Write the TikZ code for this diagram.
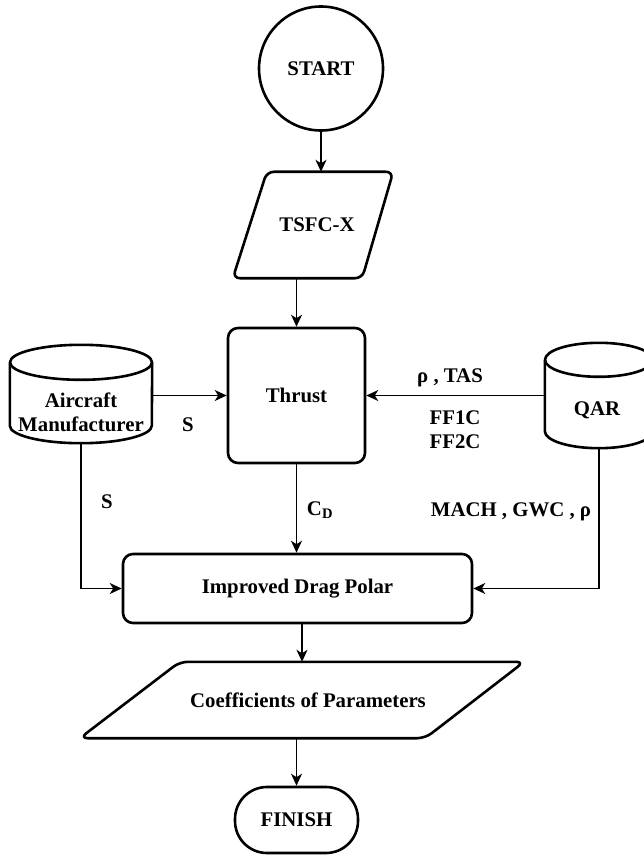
\documentclass[tikz,border=0pt]{standalone}
\usepackage{fontspec}
\setmainfont{Liberation Serif}[BoldFont={Liberation Serif Bold}]
\usetikzlibrary{arrows.meta,calc}
\tikzset{
  shp/.style={line width=2.6pt, line join=round},
  arr/.style={line width=1.5pt, -{Stealth[length=12pt, width=11pt, inset=3.5pt]}},
  txt/.style={font=\fontsize{20.8}{24}\selectfont\bfseries, align=center, inner sep=1pt},
}
\begin{document}
\begin{tikzpicture}[x=1pt, y=-1pt]
\useasboundingbox (0,0) rectangle (644,858);
\clip (0,0) rectangle (644,858);
\fill[white] (0,0) rectangle (644,858);

% START
\node[shp, draw, circle, minimum size=124pt, inner sep=0pt, txt] (start) at (321,68.5) {START};

% TSFC-X
\node[txt, minimum width=160pt, minimum height=106pt, inner sep=0pt] (tsfc) at (313,225) {\hspace*{8pt}TSFC-X};
\draw[shp, rounded corners=7pt] ($(tsfc.north west)+(34,0)$) -- (tsfc.north east) -- ($(tsfc.south east)+(-31,0)$) -- (tsfc.south west) -- cycle;

% Thrust
\node[shp, draw, rounded corners=10pt, minimum width=137pt, minimum height=135pt, txt] (thrust) at (296.5,395.5) {Thrust};

% Aircraft Manufacturer cylinder
\node[minimum width=142pt, minimum height=98pt, inner sep=0pt] (air) at (81,394) {};
\draw[shp] ($(air.north west)+(0,17.5)$) -- ($(air.south west)+(0,-17.5)$)
  arc[start angle=180, end angle=0, x radius=71, y radius=17.5] -- ($(air.north east)+(0,17.5)$);
\draw[shp] ($(air.north)+(0,17.5)$) ellipse[x radius=71, y radius=17.5];
\node[txt] (airtxt) at (81,412) {Aircraft\\Manufacturer};

% QAR cylinder
\node[minimum width=108pt, minimum height=105pt, inner sep=0pt] (qar) at (599,395.5) {};
\draw[shp] ($(qar.north west)+(0,17)$) -- ($(qar.south west)+(0,-17)$)
  arc[start angle=180, end angle=0, x radius=54, y radius=17] -- ($(qar.north east)+(0,17)$);
\draw[shp] ($(qar.north)+(0,17)$) ellipse[x radius=54, y radius=17];
\node[txt] (qartxt) at (597,410) {QAR};

% Improved Drag Polar
\node[shp, draw, rounded corners=10pt, minimum width=349pt, minimum height=69pt, txt] (idp) at (297.5,588.5) {Improved Drag Polar};

% Coefficients of Parameters
\node[txt, minimum width=444pt, minimum height=76pt, inner sep=0pt] (coef) at (302,700) {\hspace*{12pt}Coefficients of Parameters};
\draw[shp, rounded corners=8pt] ($(coef.north west)+(100,0)$) -- (coef.north east) -- ($(coef.south east)+(-99,0)$) -- (coef.south west) -- cycle;

% FINISH
\node[shp, draw, rounded corners=32pt, minimum width=123pt, minimum height=66pt, txt] (finish) at (296.5,820) {FINISH};

% connectors
\draw[arr] (start.south) -- (start.south |- tsfc.north);
\draw[arr] (thrust.north |- tsfc.south) -- (thrust.north);
\draw[arr] (air.east |- thrust.west) -- (thrust.west);
\draw[arr] (qar.west |- thrust.east) -- (thrust.east);
\draw[arr] (thrust.south) -- (thrust.south |- idp.north);
\draw[arr] (air.south) |- (idp.west);
\draw[arr] (qar.south) |- (idp.east);
\draw[arr] (coef.north |- idp.south) -- (coef.north);
\draw[arr] (finish.north |- coef.south) -- (finish.north);

% labels
\node[txt] (s1) at (188,425) {S};
\node[txt] (s2) at (107,502) {S};
\node[txt] (cd) at (320,510) {C\textsubscript{D}};
\node[txt] (rho) at (450,378) {ρ , TAS};
\node[txt] (ff) at (455,430) {FF1C\\FF2C};
\node[txt] (mach) at (511,512) {MACH , GWC , ρ};
\end{tikzpicture}
\end{document}
